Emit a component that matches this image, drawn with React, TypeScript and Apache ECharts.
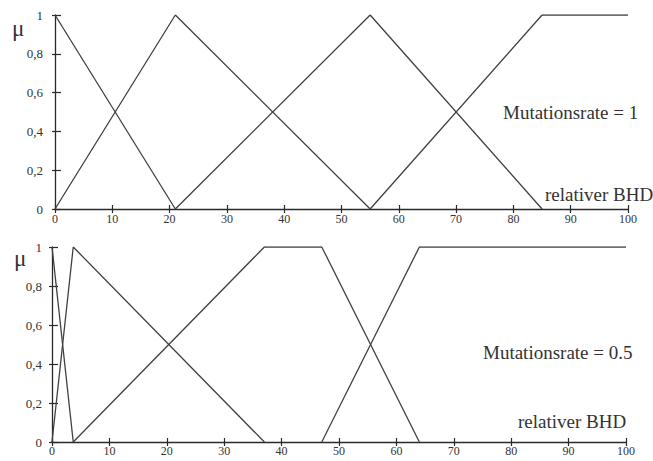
import React, { useEffect, useRef } from "react";
import * as echarts from "echarts";

// Top panel: Mutationsrate = 1
const topSet1: [number, number][] = [[0, 1], [21, 0]];
const topSet2: [number, number][] = [[0, 0], [21, 1], [55, 0]];
const topSet3: [number, number][] = [[21, 0], [55, 1], [85, 0]];
const topSet4: [number, number][] = [[55, 0], [85, 1], [100, 1]];

// Bottom panel: Mutationsrate = 0.5
const botSet1: [number, number][] = [[0, 1], [3.7, 0]];
const botSet2: [number, number][] = [[0, 0], [3.7, 1], [37, 0]];
const botSet3: [number, number][] = [[3.7, 0], [37, 1], [47, 1], [64, 0]];
const botSet4: [number, number][] = [[47, 0], [64, 1], [100, 1]];

const xMin = 0, xMax = 100, xStep = 10;
const yMin = 0, yMax = 1, yStep = 0.2;

const topLabel = "Mutationsrate = 1";
const botLabel = "Mutationsrate = 0.5";
const xName = "relativer BHD";
const yName = "μ";

const FONT = "Liberation Serif, serif";
const INK = "#2a2a2a";

export default function App() {
  const ref = useRef<HTMLDivElement>(null);
  useEffect(() => {
    if (!ref.current) return;
    const chart = echarts.init(ref.current, undefined, { renderer: "svg" });
    const yFmt = (v: number) => (v === 0 ? "0" : v === 1 ? "1" : v.toFixed(1).replace(".", ","));
    const mainX = (grid: number, margin: number) => ({
      type: "value", gridIndex: grid, position: "bottom", min: xMin, max: xMax, interval: xStep,
      axisLine: { show: true, lineStyle: { color: INK, width: 1.3 } },
      axisTick: { show: true, length: 4, lineStyle: { color: INK, width: 1.2 } },
      axisLabel: { show: true, margin, color: "#333", fontFamily: FONT, fontSize: 12 },
      splitLine: { show: false },
    });
    const innerX = (grid: number) => ({
      type: "value", gridIndex: grid, position: "bottom", min: xMin, max: xMax, interval: xStep,
      axisLine: { show: false }, axisTick: { show: true, inside: true, length: 4, lineStyle: { color: INK, width: 1.2 } },
      axisLabel: { show: false }, splitLine: { show: false },
    });
    const mainY = (grid: number, margin: number) => ({
      type: "value", gridIndex: grid, position: "left", min: yMin, max: yMax, interval: yStep,
      axisLine: { show: true, lineStyle: { color: INK, width: 1.3 } },
      axisTick: { show: true, length: 3, lineStyle: { color: INK, width: 1.2 } },
      axisLabel: { show: true, margin, color: "#333", fontFamily: FONT, fontSize: 13, formatter: yFmt },
      splitLine: { show: false },
    });
    const innerY = (grid: number) => ({
      type: "value", gridIndex: grid, position: "left", min: yMin, max: yMax, interval: yStep,
      axisLine: { show: false }, axisTick: { show: true, inside: true, length: 6, lineStyle: { color: INK, width: 1.2 } },
      axisLabel: { show: false }, splitLine: { show: false },
    });
    const line = (data: [number, number][], xi: number, yi: number) => ({
      type: "line", data, xAxisIndex: xi, yAxisIndex: yi, symbol: "none",
      lineStyle: { color: "#404040", width: 1.3 }, silent: true,
    });
    const txt = (text: string, x: number, y: number, size: number) => ({
      type: "text", x, y,
      style: { text, fill: "#333", fontFamily: FONT, fontSize: size, align: "left", verticalAlign: "middle" },
    });
    chart.setOption({
      animation: false,
      backgroundColor: "#ffffff",
      textStyle: { fontFamily: FONT },
      grid: [
        { left: 55, top: 15, width: 573, height: 194, containLabel: false },
        { left: 52, top: 247, width: 574, height: 195, containLabel: false },
      ],
      xAxis: [mainX(0, 4), innerX(0), mainX(1, 3), innerX(1)],
      yAxis: [mainY(0, 12), innerY(0), mainY(1, 10), innerY(1)],
      series: [
        line(topSet1, 0, 0), line(topSet2, 0, 0), line(topSet3, 0, 0), line(topSet4, 0, 0),
        line(botSet1, 2, 2), line(botSet2, 2, 2), line(botSet3, 2, 2), line(botSet4, 2, 2),
      ],
      graphic: [
        txt(yName, 12, 28, 23),
        txt(yName, 14, 258, 23),
        txt(topLabel, 503, 112, 19),
        txt(xName, 545, 194, 19),
        txt(botLabel, 483, 352, 19),
        txt(xName, 518, 421, 19),
      ],
    });
    return () => chart.dispose();
  }, []);
  return <div ref={ref} style={{ position: "fixed", left: 0, top: 0, width: 653, height: 461 }} />;
}
